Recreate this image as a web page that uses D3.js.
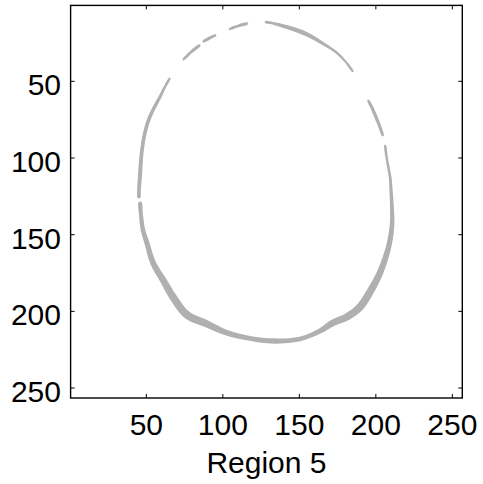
<!DOCTYPE html>
<html>
<head>
<meta charset="utf-8">
<script src="https://cdn.jsdelivr.net/npm/d3@7"></script>
<style>
  html, body { margin: 0; padding: 0; background: #fff; }
  svg { display: block; }
  text { font-family: "Liberation Sans", Arial, sans-serif; fill: #000; }
</style>
</head>
<body>
<svg id="chart" width="483" height="484"></svg>
<script>
// Image extent (pixel grid 1..256) and tick values
const imageSize = 256;
const xTicks = [50, 100, 150, 200, 250];
const yTicks = [50, 100, 150, 200, 250];
const title = "Region 5";

// Segmented boundary of region 5: each point is [column, row, band thickness]
const arcTopRight = [
  [127.6, 11.3, 1.2], [133.5, 12.4, 1.8], [139.3, 13.9, 2.4], [146.0, 15.9, 2.8],
  [152.4, 18.3, 3.0], [158.0, 21.0, 2.6], [163.5, 24.2, 2.1], [169.0, 27.6, 1.8],
  [174.6, 31.5, 1.6], [180.0, 37.0, 1.4], [185.1, 43.7, 1.0]
];
const arcTopA = [[104.0, 16.1, 1.1], [109.9, 13.9, 1.8], [116.4, 12.2, 1.1]];
const arcTopB = [[87.0, 24.2, 1.1], [91.2, 21.8, 2.0], [95.5, 19.8, 1.1]];
const arcTopC = [[74.0, 36.1, 0.9], [79.2, 30.9, 1.8], [85.1, 26.3, 1.1]];
const arcLeftUpper = [
  [65.5, 47.8, 0.9], [62.0, 54.0, 1.6], [58.9, 60.2, 2.0], [53.7, 70.0, 2.3],
  [50.4, 78.5, 2.4], [47.8, 90.2, 2.4], [46.5, 101.3, 2.5], [45.9, 111.1, 2.6],
  [45.2, 120.8, 2.4], [45.2, 126.1, 1.8]
];
const arcMain = [
  [45.9, 128.7, 1.8], [46.5, 137.1, 2.6], [47.8, 146.9, 3.0], [50.4, 155.4, 3.3],
  [54.4, 168.4, 3.8], [60.9, 179.5, 4.4], [67.4, 190.6, 4.9], [76.6, 202.3, 5.0],
  [89.7, 208.2, 4.6], [102.7, 214.1, 3.6], [115.8, 217.3, 3.2], [130.8, 219.3, 3.4],
  [150.4, 218.0, 3.0], [163.5, 212.8, 3.4], [172.0, 207.5, 4.4], [181.2, 203.6, 4.8],
  [189.7, 197.1, 5.0], [196.2, 187.3, 4.8], [202.7, 174.9, 4.2], [207.3, 161.9, 3.7],
  [209.3, 153.4, 3.4], [210.6, 143.7, 3.0], [210.6, 133.9, 2.6], [209.9, 120.8, 2.1],
  [209.3, 112.4, 1.8], [207.3, 101.3, 1.5], [206.0, 91.5, 0.9]
];
const arcRightUpper = [
  [194.9, 62.2, 1.1], [197.4, 67.0, 2.0], [199.5, 71.9, 2.2], [202.3, 78.8, 2.0],
  [204.7, 85.6, 1.1]
];
const segments = [arcTopRight, arcTopA, arcTopB, arcTopC, arcLeftUpper, arcMain, arcRightUpper];

const svg = d3.select("#chart");
const plot = { left: 70.6, right: 462.3, top: 5.4, bottom: 398 };

const x = d3.scaleLinear().domain([0.5, imageSize + 0.5]).range([plot.left, plot.right]);
const y = d3.scaleLinear().domain([0.5, imageSize + 0.5]).range([plot.top, plot.bottom]);

// Build a closed band outline around each centre line, offset along the normal
function bandOutline(pts) {
  const outer = [], inner = [];
  pts.forEach((p, i) => {
    const a = pts[Math.max(0, i - 1)], b = pts[Math.min(pts.length - 1, i + 1)];
    let tx = b[0] - a[0], ty = b[1] - a[1];
    const len = Math.hypot(tx, ty) || 1;
    tx /= len; ty /= len;
    const nx = -ty, ny = tx, h = p[2] / 2;
    outer.push([p[0] + nx * h, p[1] + ny * h]);
    inner.push([p[0] - nx * h, p[1] - ny * h]);
  });
  return outer.concat(inner.reverse());
}

const area = d3.line()
  .x(d => x(d[0]))
  .y(d => y(d[1]))
  .curve(d3.curveCatmullRomClosed.alpha(0.5));

const g = svg.append("g");
g.selectAll("path.band")
  .data(segments)
  .join("path")
  .attr("class", "band")
  .attr("d", d => area(bandOutline(d)))
  .attr("fill", "#b0b0b0")
  .attr("stroke", "none");

// Axes: box with inward ticks on all four sides
const tickLen = 4;
const axisG = svg.append("g");
axisG.append("rect")
  .attr("x", plot.left).attr("y", plot.top)
  .attr("width", plot.right - plot.left).attr("height", plot.bottom - plot.top)
  .attr("fill", "none").attr("stroke", "#000").attr("stroke-width", 1.4);

xTicks.forEach(v => {
  axisG.append("line").attr("x1", x(v)).attr("x2", x(v))
    .attr("y1", plot.bottom).attr("y2", plot.bottom - tickLen).attr("stroke", "#000");
  axisG.append("line").attr("x1", x(v)).attr("x2", x(v))
    .attr("y1", plot.top).attr("y2", plot.top + tickLen).attr("stroke", "#000");
});
yTicks.forEach(v => {
  axisG.append("line").attr("y1", y(v)).attr("y2", y(v))
    .attr("x1", plot.left).attr("x2", plot.left + tickLen).attr("stroke", "#000");
  axisG.append("line").attr("y1", y(v)).attr("y2", y(v))
    .attr("x1", plot.right).attr("x2", plot.right - tickLen).attr("stroke", "#000");
});

axisG.selectAll("text.xt").data(xTicks).join("text")
  .attr("class", "xt")
  .attr("x", d => x(d)).attr("y", 435)
  .attr("text-anchor", "middle").attr("font-size", 30)
  .text(d => d);

axisG.selectAll("text.yt").data(yTicks).join("text")
  .attr("class", "yt")
  .attr("x", 61).attr("y", d => y(d) + 14)
  .attr("text-anchor", "end").attr("font-size", 30)
  .text(d => d);

svg.append("text")
  .attr("x", (plot.left + plot.right) / 2).attr("y", 472.5)
  .attr("text-anchor", "middle").attr("font-size", 30)
  .text(title);
</script>
</body>
</html>
